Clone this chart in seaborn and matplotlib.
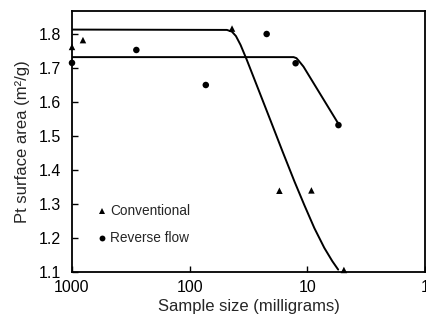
import matplotlib
matplotlib.use("Agg")
import matplotlib.pyplot as plt
import seaborn as sns
import pandas as pd

# Measured points
conv_mg = [1000, 807, 43.7, 17.3, 9.25, 4.9]
conv_area = [1.762, 1.782, 1.816, 1.339, 1.340, 1.106]
rev_mg = [1000, 284, 73, 22.2, 12.6, 5.45]
rev_area = [1.715, 1.753, 1.650, 1.800, 1.714, 1.532]

# Fitted curves
conv_fit_mg = [1000, 48.3, 43.8, 40.5, 37.0, 32.7, 25.9, 20.5, 16.25, 12.88, 10.6, 8.73, 7.19, 6.15, 5.48]
conv_fit_area = [1.813, 1.812, 1.807, 1.794, 1.768, 1.7235, 1.634, 1.544, 1.454, 1.366, 1.296, 1.229, 1.171, 1.132, 1.107]
rev_fit_mg = [1000, 13.1, 12.4, 11.9, 10.8, 5.48]
rev_fit_area = [1.732, 1.732, 1.729, 1.722, 1.704, 1.537]

xticks = [1000, 100, 10, 1]
xticklabels = ["1000", "100", "10", "1"]
yticks = [1.1, 1.2, 1.3, 1.4, 1.5, 1.6, 1.7, 1.8]

sns.set_style("ticks")
plt.rcParams["font.family"] = ["Liberation Sans", "DejaVu Sans"]

fig = plt.figure(figsize=(4.26, 3.2), dpi=100)
ax = fig.add_axes([0.169, 0.15, 0.829, 0.816])

sns.lineplot(x=conv_fit_mg, y=conv_fit_area, sort=False, color="black", lw=1.4, ax=ax, estimator=None)
sns.lineplot(x=rev_fit_mg, y=rev_fit_area, sort=False, color="black", lw=1.4, ax=ax, estimator=None)

df = pd.DataFrame({
    "mg": conv_mg + rev_mg,
    "area": conv_area + rev_area,
    "series": ["Conventional"] * len(conv_mg) + ["Reverse flow"] * len(rev_mg),
})
sns.scatterplot(data=df, x="mg", y="area", style="series", markers={"Conventional": "^", "Reverse flow": "o"},
                color="black", s=22, edgecolor="black", linewidth=0, ax=ax, clip_on=False, zorder=5)

ax.set_xscale("log")
ax.set_xlim(1000, 1)
ax.set_ylim(1.1, 1.868)
ax.set_xticks(xticks)
ax.set_xticklabels(xticklabels)
ax.minorticks_off()
ax.set_yticks(yticks)
ax.set_yticklabels([f"{v:.1f}" for v in yticks])
ax.tick_params(direction="in", length=4, width=1, labelsize=11.5, colors="black")
ax.tick_params(axis="y", pad=8)
ax.tick_params(axis="x", pad=6)
for s in ax.spines.values():
    s.set_linewidth(1.3)
    s.set_color("black")
ax.set_xlabel("Sample size (milligrams)", fontsize=12, labelpad=3)
ax.set_ylabel("Pt surface area (m²/g)", fontsize=12, labelpad=6)

leg = ax.legend(loc="lower left", bbox_to_anchor=(0.03, 0.055), frameon=False, fontsize=9.8,
                handletextpad=0.15, labelspacing=0.95, markerscale=0.9, handlelength=1.0)

fig.savefig("out.png", dpi=100)
